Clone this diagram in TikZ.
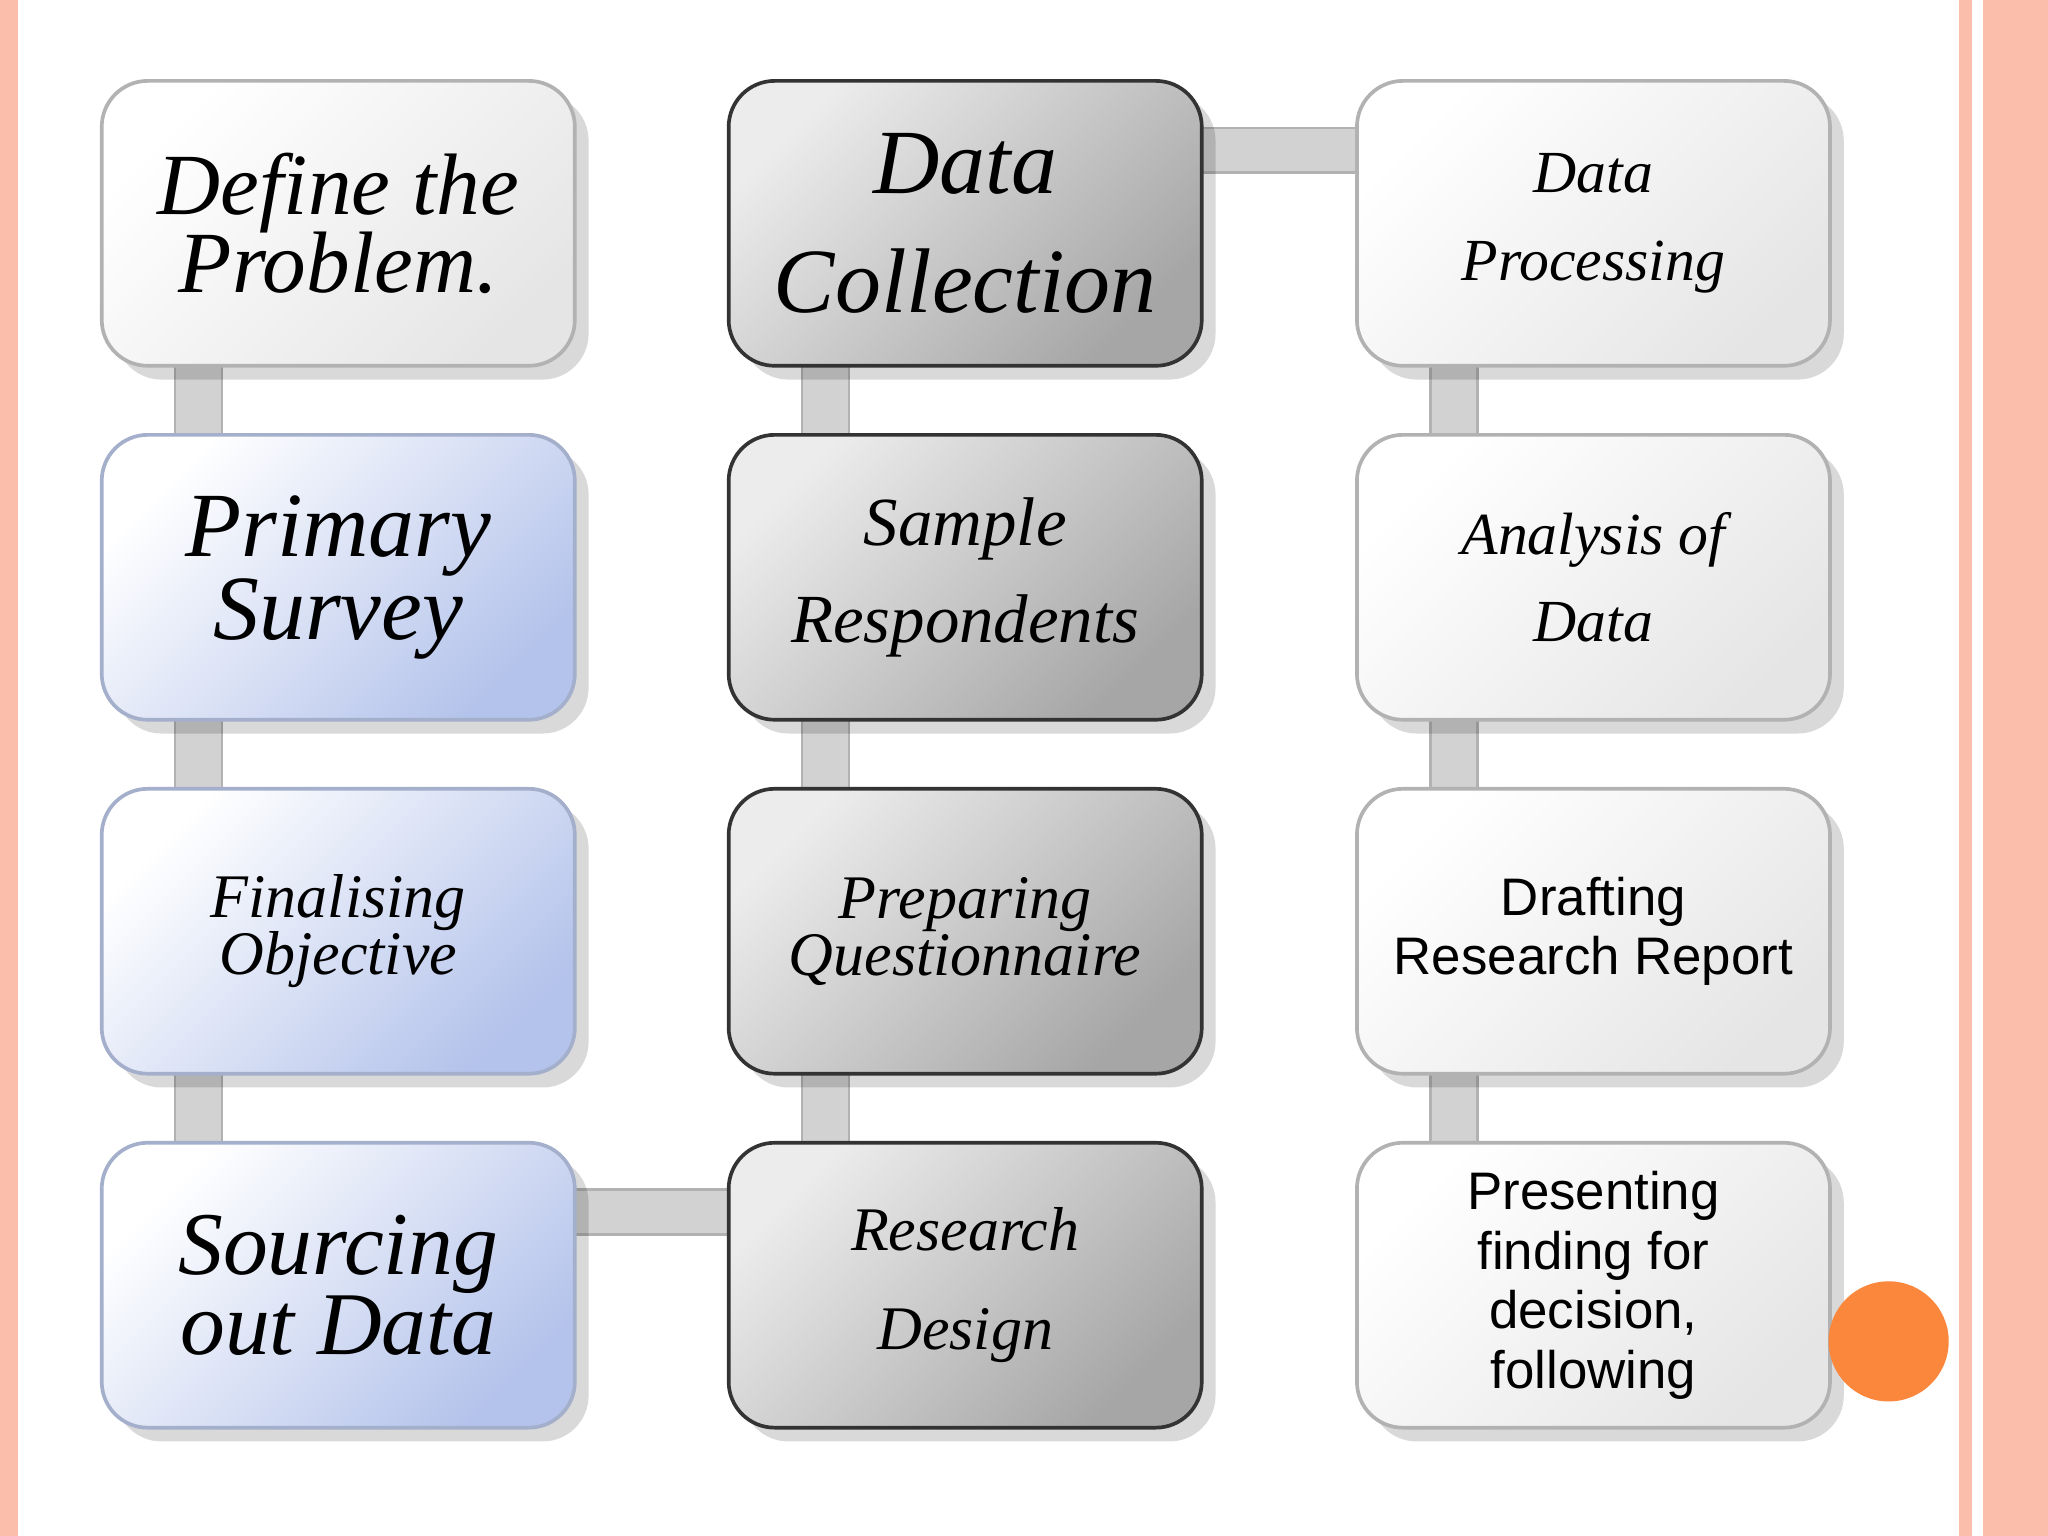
\documentclass[tikz,border=0pt]{standalone}
\usepackage{fontspec}
\setmainfont{Liberation Serif}
\newfontfamily\sansf{Liberation Sans}
\usetikzlibrary{shadows}
\definecolor{pinkb}{RGB}{250,190,170}
\definecolor{orangec}{RGB}{250,135,60}
\definecolor{bluc}{RGB}{180,195,235}
\tikzset{
 bx/.style={rounded corners=10pt,draw=gray!60,line width=0.8pt,minimum width=3.62cm,minimum height=2.18cm,align=center,
   drop shadow={shadow xshift=3pt,shadow yshift=-3pt,opacity=0.15,fill=black}},
 wbox/.style={bx,top color=white,bottom color=gray!20,shading angle=45},
 bbox/.style={bx,top color=white,bottom color=bluc,shading angle=45,draw=bluc!70!gray},
 gbox/.style={bx,top color=gray!15,bottom color=gray!70,shading angle=45,draw=gray!40!black},
 cbar/.style={fill=gray!35,draw=gray!60,line width=0.6pt},
 sf/.style={font=\sansf\fontsize{#1}{13}\selectfont},
 it/.style={font=\itshape\fontsize{#1}{#1}\selectfont}
}
\begin{document}
\begin{tikzpicture}[x=0.01cm,y=-0.01cm]
\useasboundingbox (0,0) rectangle (1568,1176);
\fill[white] (0,0) rectangle (1568,1176);
\fill[pinkb] (0,0) rectangle (14,1176);
\fill[pinkb] (1500,0) rectangle (1510,1176);
\fill[pinkb] (1518,0) rectangle (1568,1176);
% connectors
\foreach \x in {134,614,1095}{
 \foreach \y in {278,549,820}{
  \draw[cbar] (\x,\y) rectangle ++(36,56);}}
\draw[cbar] (918,98) rectangle (1041,132);
\draw[cbar] (438,911) rectangle (560,945);
% boxes
\node[wbox,it=19] (a1) at (259,171) {Define the\\[-2pt]Problem.};
\node[bbox,it=20] (a2) at (259,442) {Primary\\[-2pt]Survey};
\node[bbox,it=13.5] (a3) at (259,713) {Finalising\\[-1pt]Objective};
\node[bbox,it=19.5] (a4) at (259,984) {Sourcing\\[-2pt]out Data};
\node[gbox,it=20] (b1) at (739,171) {Data\\[6pt]Collection};
\node[gbox,it=15] (b2) at (739,442) {Sample\\[6pt]Respondents};
\node[gbox,it=13.5] (b3) at (739,713) {Preparing\\[-1pt]Questionnaire};
\node[gbox,it=13.5] (b4) at (739,984) {Research\\[8pt]Design};
\node[wbox,it=13] (c1) at (1220,171) {Data\\[6pt]Processing};
\node[wbox,it=13] (c2) at (1220,442) {Analysis of\\[6pt]Data};
\node[wbox,sf=11.5] (c3) at (1220,713) {Drafting\\Research Report};
\node[wbox,sf=11.5] (c4) at (1220,984) {Presenting\\finding for\\decision,\\following};
\fill[orangec] (1446,1027) circle (46);
\end{tikzpicture}
\end{document}
